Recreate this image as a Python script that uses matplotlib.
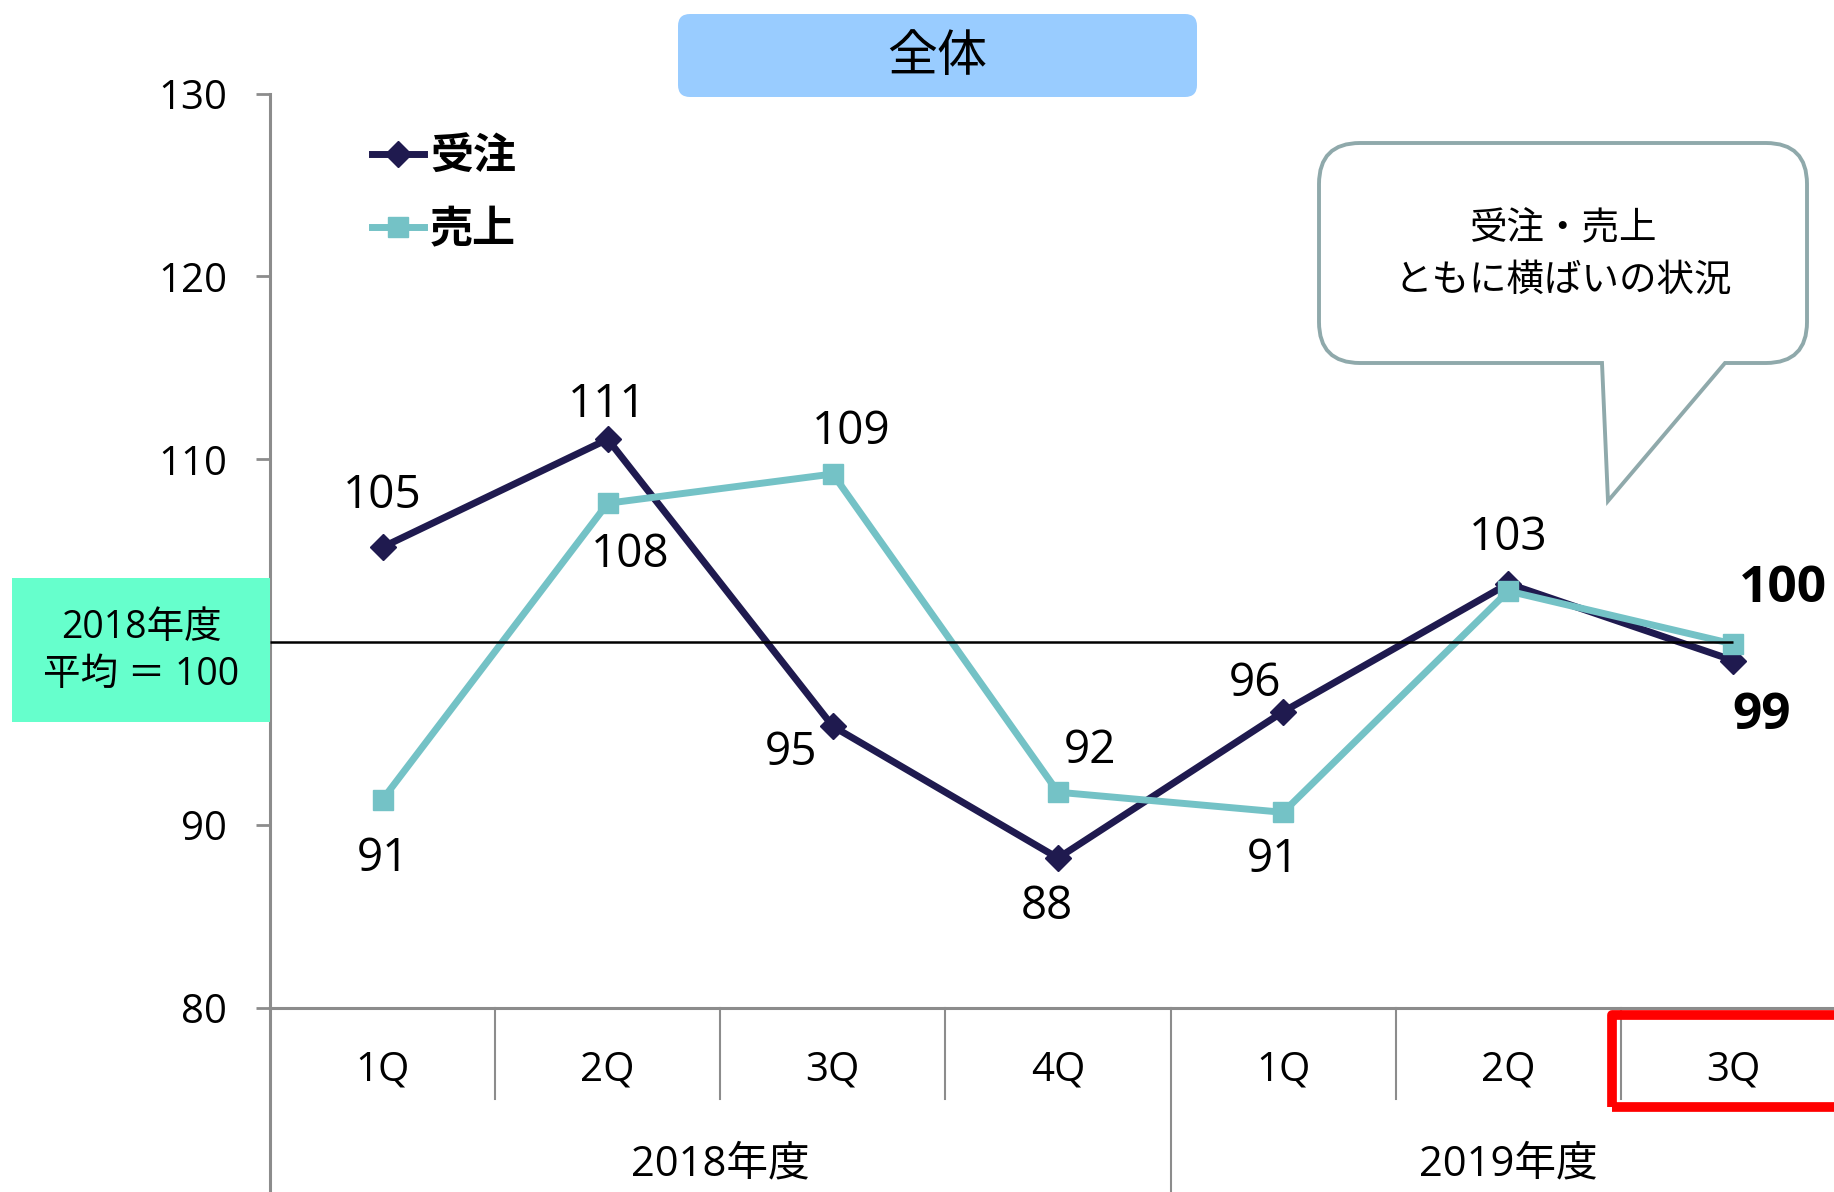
import matplotlib
matplotlib.use("Agg")
import matplotlib.pyplot as plt
from matplotlib.patches import FancyBboxPatch, Rectangle, PathPatch
from matplotlib.path import Path
from matplotlib import transforms

plt.rcParams['font.family'] = ['Open Sans', 'Noto Sans CJK JP', 'DejaVu Sans']

# data
quarters = ['1Q', '2Q', '3Q', '4Q', '1Q', '2Q', '3Q']
years = ['2018年度', '2019年度']
year_spans = [(0, 3), (4, 6)]
juchu = [105.2, 111.1, 95.4, 88.2, 96.2, 103.2, 99.0]
uriage = [91.4, 107.6, 109.2, 91.8, 90.7, 102.8, 99.9]
average = 100
yticks = [80, 90, 110, 120, 130]

# label offsets in points (None = no label)
juchu_off = [(0, 37), (0, 25), (-30, -19), (-8, -35), (-20, 20), (0, 33), (20, -40)]
uriage_off = [(0, -43), (16, -37), (13, 30), (23, 30), (-7, -34), None, (36, 40)]

W, H = 1834, 1192
fig = plt.figure(figsize=(W / 100, H / 100), dpi=100)
inch = fig.dpi_scale_trans

def pt(x, y):
    # full-size pixel coords (top-left origin) -> inches
    return x / 100, (H - y) / 100

gray = '#8C8C8C'
navy = '#1F1A4F'
teal = '#74C2C6'

ax_l, ax_r, ax_t, ax_b = 270, 1846, 93.6, 1008
ax = fig.add_axes([ax_l / W, 1 - ax_b / H, (ax_r - ax_l) / W, (ax_b - ax_t) / H])
x = list(range(len(quarters)))

l1, = ax.plot(x, juchu, color=navy, lw=5, marker='D', ms=13, label='受注', zorder=3)
l2, = ax.plot(x, uriage, color=teal, lw=5, marker='s', ms=14, label='売上', zorder=3.5)
ax.hlines(average, -0.5, len(x) - 1, color='black', lw=1.8, zorder=4)

ax.set_xlim(-0.5, len(x) - 0.5)
ax.set_ylim(80, 130)
ax.set_yticks(yticks)
ax.set_xticks([])
for s in ['top', 'right']:
    ax.spines[s].set_visible(False)
ax.spines['left'].set_color(gray)
ax.spines['left'].set_linewidth(2.2)
ax.spines['bottom'].set_color(gray)
ax.spines['bottom'].set_linewidth(2.2)
ax.tick_params(axis='y', length=10, width=2, color=gray, pad=21, labelsize=29)

blend = transforms.blended_transform_factory(ax.transData, ax.transAxes)

# category axis
for i in range(len(x) - 1):
    sep = i + 0.5
    big = any(sep == s[0] - 0.5 for s in year_spans)
    ax.plot([sep, sep], [0, -0.3 if big else -0.1], transform=blend,
            color=gray, lw=1.5, clip_on=False)
ax.plot([-0.5, -0.5], [0, -0.3], transform=blend, color=gray, lw=2.2, clip_on=False)
for i, q in enumerate(quarters):
    ax.text(i, -0.068, q, transform=blend, ha='center', va='center', fontsize=29)
for yl, (a, b) in zip(years, year_spans):
    ax.text((a + b) / 2, -0.171, yl, transform=blend, ha='center', va='center', fontsize=30)

ax.add_patch(Rectangle((len(x) - 1.54, -0.108), 2, 0.1, transform=blend,
                       fill=False, edgecolor='#FF0000', lw=7, clip_on=False,
                       joinstyle='round', zorder=5))

# data labels
last = len(x) - 1
for vals, offs in [(juchu, juchu_off), (uriage, uriage_off)]:
    for i, (v, o) in enumerate(zip(vals, offs)):
        if o is None:
            continue
        bold = i == last
        ax.annotate(f'{round(v)}', (i, v), xytext=o, textcoords='offset points',
                    ha='center', va='center', fontsize=37 if bold else 33,
                    fontweight='bold' if bold else 'normal', annotation_clip=False)

# legend
leg = ax.legend(handles=[l1, l2], loc='upper left', bbox_to_anchor=(372 / W, 1 - 136 / H),
                bbox_transform=fig.transFigure, frameon=False, borderpad=0,
                borderaxespad=0, handlelength=1.2, handletextpad=0.15,
                labelspacing=0.7, prop={'size': 31, 'weight': 'bold'})

# title box
x0, y0 = pt(678, 97)
fig.patches.append(FancyBboxPatch((x0, y0), 5.19, 0.83, boxstyle='round,pad=0,rounding_size=0.12',
                                  transform=inch, facecolor='#99CCFF', edgecolor='none', zorder=2))
fig.text(*pt(937, 58), '全体', transform=inch, ha='center', va='center', fontsize=36, zorder=3)

# left average box
x0, y0 = pt(12, 722)
fig.patches.append(Rectangle((x0, y0), 2.58, 1.44, transform=inch,
                             facecolor='#66FFCC', edgecolor='none', zorder=2))
fig.text(*pt(141, 628), '2018年度', transform=inch, ha='center', va='center', fontsize=27, zorder=3)
fig.text(*pt(141, 675), '平均 ＝ 100', transform=inch, ha='center', va='center', fontsize=27, zorder=3)

# callout
L, R, T, B, r = 1319, 1807, 143, 363, 41
tl, tr, tip = 1602, 1725, (1608, 501)
verts = [(L + r, T), (R - r, T), (R, T), (R, T + r), (R, B - r), (R, B), (R - r, B),
         (tr, B), tip, (tl, B), (L + r, B), (L, B), (L, B - r), (L, T + r), (L, T), (L + r, T),
         (L + r, T)]
codes = [Path.MOVETO, Path.LINETO, Path.CURVE3, Path.CURVE3, Path.LINETO, Path.CURVE3,
         Path.CURVE3, Path.LINETO, Path.LINETO, Path.LINETO, Path.LINETO, Path.CURVE3,
         Path.CURVE3, Path.LINETO, Path.CURVE3, Path.CURVE3, Path.CLOSEPOLY]
path = Path([pt(*v) for v in verts], codes)
fig.patches.append(PathPatch(path, transform=inch, facecolor='white', edgecolor='#8FA9AB',
                             lw=2.8, zorder=2))
fig.text(*pt(1563, 228), '受注・売上', transform=inch, ha='center', va='center', fontsize=27, zorder=3)
fig.text(*pt(1563, 281), 'ともに横ばいの状況', transform=inch, ha='center', va='center', fontsize=27, zorder=3)

fig.savefig('out.png', dpi=100)
